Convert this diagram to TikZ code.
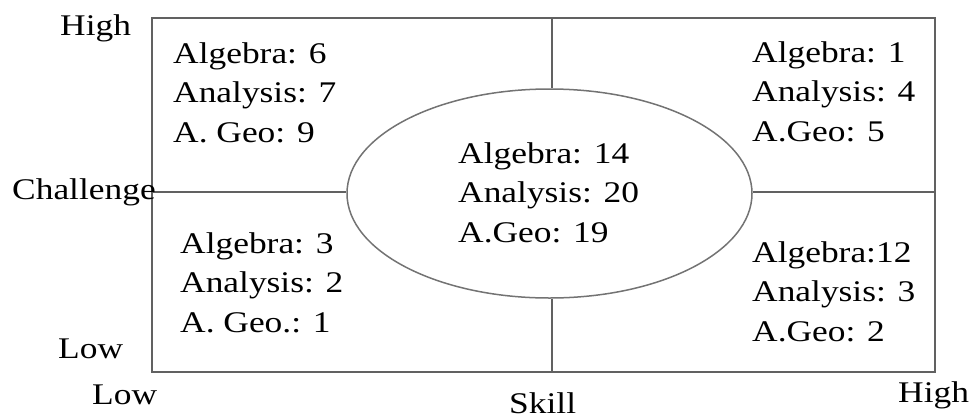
\documentclass[tikz,border=0pt]{standalone}
\usepackage{fontspec}
\usetikzlibrary{shapes.geometric}
\newfontfamily\tnr[FakeStretch=1.18]{Liberation Serif}
\newcommand\threelines[3]{\vtop{\hbox{#1}\hbox{#2}\hbox{#3}}}
\begin{document}
\begin{tikzpicture}[x=1pt,y=-1pt,
  lbl/.style={anchor=base west,inner sep=0pt,font=\tnr\fontsize{30}{39.5}\selectfont},
  frame/.style={draw=black!62,line width=2pt},
  oval/.style={draw=black!55,line width=1.5pt,ellipse,minimum width=405pt,minimum height=209pt,inner sep=0pt}]
\useasboundingbox (0,0) rectangle (970,416);
\coordinate (tl) at (152,18);
\coordinate (br) at (935,372);
\draw[frame] (tl) rectangle (br);
\node[oval] (e) at (549.5,193.5) {};
\coordinate (tm) at (552,18);
\coordinate (bm) at (552,372);
\coordinate (ml) at (152,192);
\coordinate (mr) at (935,192);
\draw[frame] (tm) -- (tm |- e.north);
\draw[frame] (bm) -- (bm |- e.south);
\draw[frame] (ml) -- (e.west |- ml);
\draw[frame] (mr) -- (e.east |- mr);
\node[lbl] (q1) at (173,63) {\threelines{Algebra: 6}{Analysis: 7}{A. Geo: 9}};
\node[lbl] (q2) at (752,62) {\threelines{Algebra: 1}{Analysis: 4}{A.Geo: 5}};
\node[lbl] (q3) at (180,253) {\threelines{Algebra: 3}{Analysis: 2}{A. Geo.: 1}};
\node[lbl] (q4) at (752,262) {\threelines{Algebra:12}{Analysis: 3}{A.Geo: 2}};
\node[lbl] (c) at (458,163) {\threelines{Algebra: 14}{Analysis: 20}{A.Geo: 19}};
\node[lbl] (hy) at (60,35) {High};
\node[lbl] (ch) at (12,199) {Challenge};
\node[lbl] (ly) at (58,358) {Low};
\node[lbl] (lx) at (92,404) {Low};
\node[lbl] (sk) at (509,413) {Skill};
\node[lbl] (hx) at (898,402) {High};
\end{tikzpicture}
\end{document}
